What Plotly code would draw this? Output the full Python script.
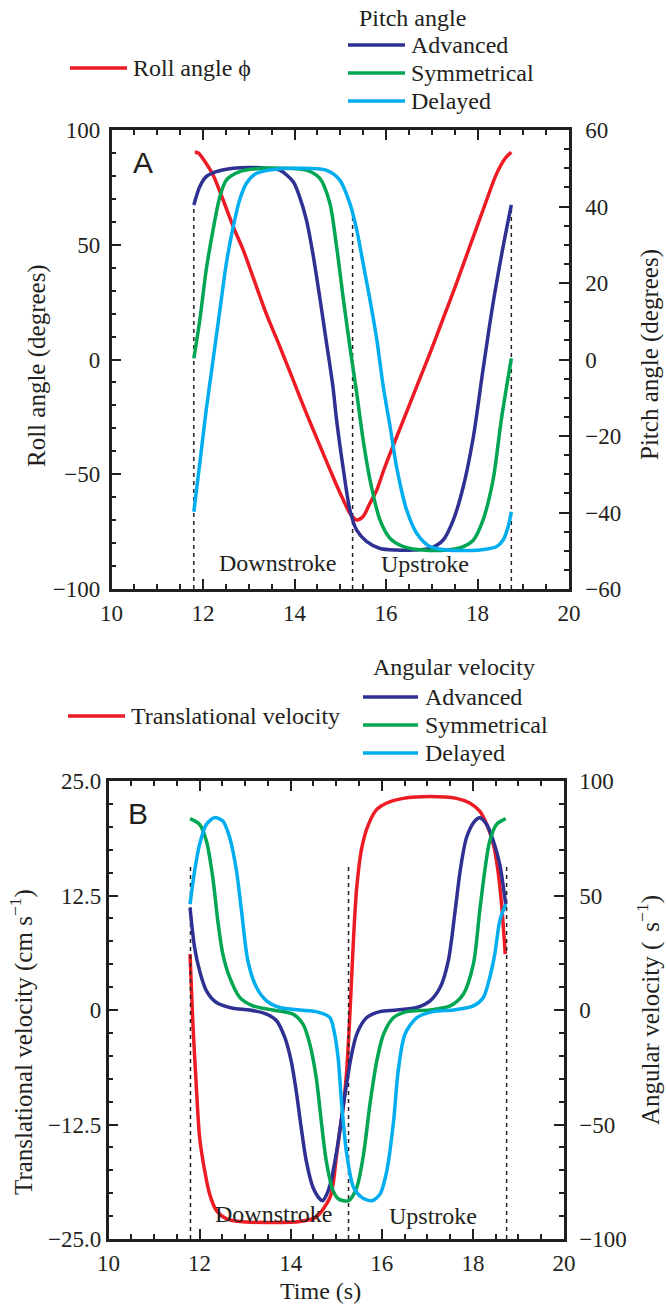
import plotly.graph_objects as go

# ---------------- data ----------------
# Panel A: roll angle (left axis, degrees)
t_roll = [11.82, 11.90, 12.00, 12.22, 12.44, 12.66, 12.88, 13.09, 13.38, 13.68, 13.97, 14.26,
          14.55, 14.78, 14.92, 15.07, 15.21, 15.36, 15.50, 15.65, 15.80, 15.94, 16.09, 16.38,
          16.67, 16.96, 17.25, 17.54, 17.83, 18.12, 18.42, 18.60, 18.74]
roll = [90.3, 90.0, 87.5, 80.4, 69.5, 57.9, 47.7, 36.1, 20.1, 5.6, -8.9, -23.5,
        -37.3, -48.2, -54.8, -61.3, -67.0, -69.9, -68.4, -62.6, -56.8, -48.8, -40.9, -26.4,
        -11.8, 2.7, 17.9, 33.2, 49.2, 65.1, 81.1, 87.5, 90.3]

# Panel A: pitch angle (right axis, degrees)
t_pitch_adv = [11.80, 11.93, 12.07, 12.29, 12.66, 13.02, 13.38, 13.68, 13.97, 14.11, 14.26, 14.40,
               14.55, 14.69, 14.84, 14.92, 15.07, 15.21, 15.36, 15.58, 15.87, 16.23, 16.60, 16.96,
               17.25, 17.47, 17.69, 17.91, 18.12, 18.34, 18.56, 18.74]
pitch_adv = [40.4, 45.2, 47.8, 49.1, 50.0, 50.2, 50.0, 49.5, 46.5, 42.6, 36.5, 27.8,
             16.4, 5.1, -7.1, -15.8, -28.9, -39.3, -44.6, -47.6, -49.4, -49.8, -49.8, -49.4,
             -47.2, -42.0, -33.2, -20.2, -2.7, 14.7, 29.5, 40.4]

t_pitch_sym = [11.80, 11.93, 12.07, 12.22, 12.37, 12.51, 12.80, 13.09, 13.75, 14.26, 14.55, 14.77,
               14.92, 15.07, 15.21, 15.36, 15.50, 15.65, 15.87, 16.09, 16.38, 16.81, 17.32, 17.69,
               17.91, 18.12, 18.34, 18.52, 18.74]
pitch_sym = [0.3, 10.3, 23.4, 33.9, 42.6, 46.9, 49.1, 49.8, 50.0, 49.5, 47.4, 41.0,
             29.5, 15.6, 3.4, -8.8, -21.0, -31.5, -42.0, -46.8, -48.9, -49.8, -49.8, -48.9,
             -47.2, -42.0, -31.5, -15.8, 0.3]

t_pitch_del = [11.80, 11.93, 12.07, 12.22, 12.37, 12.51, 12.66, 12.80, 12.95, 13.17, 13.53, 14.11,
               14.69, 14.99, 15.21, 15.36, 15.50, 15.65, 15.80, 15.94, 16.09, 16.23, 16.45, 16.67,
               16.96, 17.32, 18.05, 18.42, 18.56, 18.67, 18.74]
pitch_del = [-39.8, -27.1, -13.2, -0.1, 13.0, 25.1, 34.7, 41.7, 46.1, 48.7, 49.7, 50.0,
             49.5, 46.9, 40.8, 33.9, 25.1, 15.6, 5.1, -7.1, -17.6, -28.0, -39.3, -45.4,
             -48.9, -49.8, -49.8, -48.9, -47.2, -43.7, -39.8]

# Panel B: translational velocity (left axis, cm/s)
t_trans = [11.79, 11.85, 11.93, 12.00, 12.11, 12.22, 12.37, 12.59, 12.88, 13.47, 14.20, 14.56,
           14.86, 14.93, 15.01, 15.16, 15.23, 15.31, 15.38, 15.45, 15.56, 15.71, 15.89, 16.11,
           16.47, 17.06, 17.64, 17.93, 18.15, 18.30, 18.45, 18.55, 18.63, 18.71]
trans = [6.1, -1.2, -8.5, -13.9, -17.5, -20.1, -21.9, -22.8, -23.1, -23.2, -23.1, -22.6,
         -20.5, -19.0, -15.7, -10.3, -6.6, 0.6, 7.9, 13.4, 17.7, 20.3, 21.9, 22.6,
         23.1, 23.3, 23.1, 22.6, 21.7, 20.3, 18.1, 15.2, 11.5, 6.1]

# Panel B: angular velocity (right axis)
t_ang_adv = [11.79, 11.89, 12.00, 12.15, 12.37, 12.73, 13.10, 13.47, 13.69, 13.87, 14.01, 14.12,
             14.23, 14.34, 14.49, 14.64, 14.70, 14.78, 14.87, 15.01, 15.16, 15.31, 15.45, 15.67,
             15.96, 16.33, 16.77, 17.06, 17.28, 17.46, 17.61, 17.72, 17.86, 18.04, 18.15, 18.30,
             18.45, 18.59, 18.72]
ang_adv = [44.7, 27.3, 17.1, 8.4, 3.3, 0.8, 0.0, -1.8, -4.7, -12.0, -22.2, -35.3,
           -51.3, -65.8, -77.5, -82.5, -83.3, -81.0, -76.0, -61.5, -41.1, -22.2, -10.5, -3.3,
           -0.7, 0.0, 1.1, 4.0, 9.8, 21.5, 43.3, 60.7, 75.3, 82.5, 84.0, 81.1,
           73.8, 63.6, 46.2]

t_ang_sym = [11.79, 12.00, 12.15, 12.29, 12.40, 12.51, 12.66, 12.88, 13.17, 13.61, 14.05, 14.27,
             14.42, 14.56, 14.67, 14.78, 14.93, 15.05, 15.27, 15.45, 15.60, 15.74, 15.89, 16.04,
             16.26, 16.55, 17.06, 17.50, 17.79, 18.01, 18.15, 18.26, 18.37, 18.52, 18.72]
ang_sym = [83.6, 81.1, 73.8, 57.8, 38.9, 24.4, 14.2, 5.5, 1.8, 0.0, -1.8, -6.2,
           -14.9, -29.5, -48.4, -65.8, -78.9, -82.5, -83.3, -77.5, -62.9, -41.1, -22.2, -10.5,
           -3.3, -0.7, 0.0, 1.8, 6.9, 20.0, 43.3, 60.7, 73.8, 81.1, 83.6]

t_ang_del = [11.79, 11.89, 12.00, 12.15, 12.33, 12.51, 12.66, 12.81, 12.92, 13.06, 13.25, 13.47,
             13.76, 14.20, 14.56, 14.86, 14.95, 15.04, 15.12, 15.23, 15.38, 15.56, 15.78, 15.96,
             16.11, 16.26, 16.36, 16.51, 16.77, 17.13, 17.57, 18.01, 18.23, 18.37, 18.48, 18.59,
             18.72]
ang_del = [46.2, 60.7, 72.4, 81.1, 84.0, 82.5, 75.3, 60.7, 43.3, 21.5, 9.8, 4.0,
           1.1, 0.0, -0.7, -3.3, -9.0, -20.7, -41.1, -62.9, -77.5, -81.8, -83.3, -80.4,
           -70.2, -48.4, -26.5, -10.5, -3.3, -0.7, 0.0, 1.8, 5.5, 14.2, 24.4, 38.9,
           46.2]

# stroke boundaries (dashed lines) and the top of each dashed line
stroke_times = [11.80, 15.27, 18.74]
dash_top_A = [67.0, 65.0, 67.0]       # roll-axis units
dash_top_B = [15.7, 15.7, 16.0]       # translational-axis units

series_names = ["Advanced", "Symmetrical", "Delayed"]

# ---------------- styling ----------------
RED = "#ED1C24"
BLUE = "#2E3192"
GREEN = "#00A651"
CYAN = "#00AEEF"
INK = "#231F20"
SERIF = "Liberation Serif, Times New Roman, serif"
SANS = "Liberation Sans, Arial, sans-serif"
W, H = 666, 1312
LW = 3.5
TXT = 24


def px_x(p):
    return p / W


def px_y(p):
    return 1 - p / H


fig = go.Figure()
spl = dict(shape="spline", smoothing=0.8)

# Panel A
fig.add_trace(go.Scatter(x=t_roll, y=roll, mode="lines", line=dict(color=RED, width=LW, **spl),
                         xaxis="x", yaxis="y", name="Roll angle φ"))
dx, dy = [], []
for t, top in zip(stroke_times, dash_top_A):
    dx += [t, t, None]
    dy += [-100, top, None]
fig.add_trace(go.Scatter(x=dx, y=dy, mode="lines", line=dict(color=INK, width=1.5, dash="4px,4px"),
                         xaxis="x", yaxis="y", name="stroke"))
for tt, vv, col, nm in zip([t_pitch_adv, t_pitch_sym, t_pitch_del], [pitch_adv, pitch_sym, pitch_del],
                           [BLUE, GREEN, CYAN], series_names):
    fig.add_trace(go.Scatter(x=tt, y=vv, mode="lines", line=dict(color=col, width=LW, **spl),
                             xaxis="x", yaxis="y2", name=nm))

# Panel B
fig.add_trace(go.Scatter(x=t_trans, y=trans, mode="lines", line=dict(color=RED, width=LW, **spl),
                         xaxis="x2", yaxis="y3", name="Translational velocity"))
dx, dy = [], []
for t, top in zip(stroke_times, dash_top_B):
    dx += [t, t, None]
    dy += [-25, top, None]
fig.add_trace(go.Scatter(x=dx, y=dy, mode="lines", line=dict(color=INK, width=1.5, dash="4px,4px"),
                         xaxis="x2", yaxis="y3", name="stroke"))
for tt, vv, col, nm in zip([t_ang_adv, t_ang_sym, t_ang_del], [ang_adv, ang_sym, ang_del],
                           [BLUE, GREEN, CYAN], series_names):
    fig.add_trace(go.Scatter(x=tt, y=vv, mode="lines", line=dict(color=col, width=LW, **spl),
                             xaxis="x2", yaxis="y4", name=nm))

tickfont = dict(family=SERIF, size=23, color=INK)


def minor(dt, t0=0):
    return dict(ticks="inside", ticklen=5, tickwidth=1.5, tickcolor=INK, tick0=t0, dtick=dt)


def axis_common(**kw):
    d = dict(showline=True, linecolor=INK, linewidth=2.5, ticks="inside", ticklen=10, tickwidth=1.8,
             tickcolor=INK, showgrid=False, zeroline=False, tickfont=tickfont, automargin=False,
             fixedrange=True)
    d.update(kw)
    return d


A_x = [px_x(111.5), px_x(569)]
A_y = [px_y(589), px_y(130)]
B_x = [px_x(108.5), px_x(564)]
B_y = [px_y(1239), px_y(781)]

fig.update_layout(
    width=W, height=H, margin=dict(l=0, r=0, t=0, b=0),
    paper_bgcolor="white", plot_bgcolor="white", showlegend=False,
    xaxis=axis_common(domain=A_x, anchor="y", range=[10, 20], tick0=10, dtick=2, mirror="ticks",
                      ticklabelstandoff=2, minor=minor(0.5, 10)),
    yaxis=axis_common(domain=A_y, anchor="x", range=[-100, 100], tick0=0, dtick=50,
                      ticklabelstandoff=4, minor=minor(10)),
    yaxis2=axis_common(overlaying="y", side="right", anchor="x", range=[-60, 60], tick0=0, dtick=20,
                       ticklabelstandoff=9, minor=minor(5)),
    xaxis2=axis_common(domain=B_x, anchor="y3", range=[10, 20], tick0=10, dtick=2, mirror="ticks",
                       ticklabelstandoff=2, minor=minor(0.5, 10)),
    yaxis3=axis_common(domain=B_y, anchor="x2", range=[-25, 25], tickmode="array",
                       tickvals=[-25, -12.5, 0, 12.5, 25],
                       ticktext=["\u221225.0", "\u221212.5", "0", "12.5", "25.0"],
                       ticklabelstandoff=0, minor=minor(2.5)),
    yaxis4=axis_common(overlaying="y3", side="right", anchor="x2", range=[-100, 100], tick0=0, dtick=50,
                       ticklabelstandoff=8, minor=minor(10)),
)

ann = []
shapes = []


def text(x, y, s, size=TXT, xanchor="left", angle=0, family=SERIF):
    ann.append(dict(x=px_x(x), y=px_y(y), xref="paper", yref="paper", text=s, showarrow=False,
                    xanchor=xanchor, yanchor="middle", textangle=angle,
                    font=dict(family=family, size=size, color=INK)))


def legline(x0, x1, y, col):
    shapes.append(dict(type="line", xref="paper", yref="paper", x0=px_x(x0), x1=px_x(x1),
                       y0=px_y(y), y1=px_y(y), line=dict(color=col, width=LW)))


# Panel A legend
legline(70, 127, 68, RED)
text(131, 68, "Roll angle \u03d5")
text(357, 18, "Pitch angle")
for y, col, nm in zip([45, 73, 101], [BLUE, GREEN, CYAN], series_names):
    legline(348, 405, y, col)
    text(409, y, nm)

# Panel B legend
legline(68, 125, 716, RED)
text(129, 716, "Translational velocity")
text(371, 667, "Angular velocity")
for y, col, nm in zip([697, 725, 753], [BLUE, GREEN, CYAN], series_names):
    legline(363, 418, y, col)
    text(423, y, nm)

# panel letters
text(143, 162, "A", size=30, xanchor="center", family=SANS)
text(138, 813, "B", size=30, xanchor="center", family=SANS)

# stroke labels (data coordinates)
lab = dict(family=SERIF, size=TXT, color=INK)
ann.append(dict(x=13.62, y=-88.5, xref="x", yref="y", text="Downstroke", showarrow=False, font=lab))
ann.append(dict(x=16.85, y=-89.0, xref="x", yref="y", text="Upstroke", showarrow=False, font=lab))
ann.append(dict(x=13.62, y=-22.3, xref="x2", yref="y3", text="Downstroke", showarrow=False, font=lab))
ann.append(dict(x=17.13, y=-22.5, xref="x2", yref="y3", text="Upstroke", showarrow=False, font=lab))

# axis titles
text(37, 366, "Roll angle (degrees)", size=25, xanchor="center", angle=-90)
text(650, 355, "Pitch angle (degrees)", size=25, xanchor="center", angle=-90)
text(21, 1042, "Translational velocity (cm s<sup>\u22121</sup>)", size=25, xanchor="center", angle=-90)
text(648, 1010, "Angular velocity (\u2009\u2009s<sup>\u22121</sup>)", size=25, xanchor="center", angle=-90)
text(320, 1291, "Time (s)", size=TXT, xanchor="center")

fig.update_layout(annotations=ann, shapes=shapes)

fig.write_html("out.html", config={"displayModeBar": False},
               post_script="document.body.style.margin='0px';")
